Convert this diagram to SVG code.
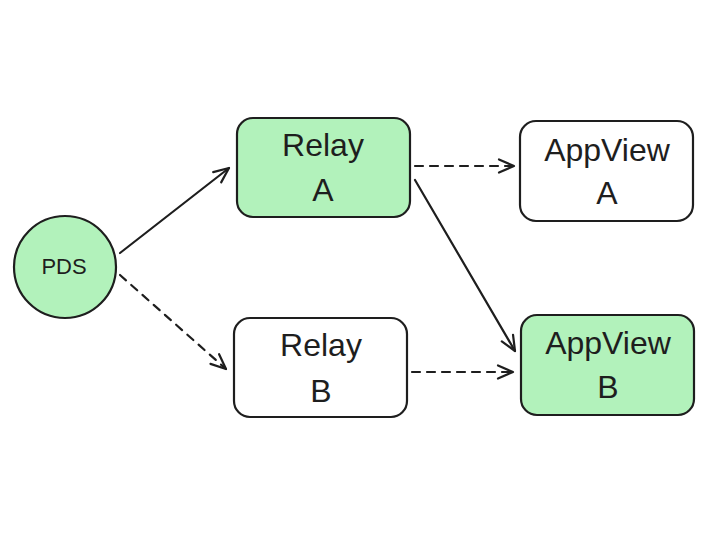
<svg xmlns="http://www.w3.org/2000/svg" width="718" height="539" viewBox="0 0 718 539">
<style>
.node{stroke:#1e1e1e;stroke-width:2.2;}
.green{fill:#b2f2bb;}
.white{fill:#ffffff;}
.lbl{font-family:"Liberation Sans",Arial,sans-serif;fill:#1e1e1e;text-anchor:middle;font-size:32px;}
.edge{fill:none;stroke:#1e1e1e;stroke-width:2.2;stroke-linecap:round;marker-end:url(#arr);}
.dash{stroke-dasharray:8 7;}
</style>
<defs>
<marker id="arr" markerUnits="userSpaceOnUse" markerWidth="30" markerHeight="30" viewBox="-20 -15 30 30" refX="0" refY="0" orient="auto">
<path d="M-15,-6.5 L0,0 L-15,6.5" fill="none" stroke="#1e1e1e" stroke-width="2.2" stroke-linecap="round" stroke-linejoin="round"/>
</marker>
</defs>
<rect width="718" height="539" fill="#ffffff"/>
<g id="connectors">
<path class="edge" d="M120,253 L229,168"/>
<path class="edge dash" d="M120,275 L226,369"/>
<path class="edge dash" d="M415,166 L514,166"/>
<path class="edge" d="M415,180 L515,351"/>
<path class="edge dash" d="M412,372 L513,372"/>
</g>
<g id="pds">
<circle class="node green" cx="65" cy="267" r="51"/>
<text class="lbl" x="64" y="274" style="font-size:22px">PDS</text>
</g>
<g id="relayA">
<rect class="node green" x="237" y="118" width="173" height="99" rx="16"/>
<text class="lbl" x="323" y="156">Relay</text>
<text class="lbl" x="323" y="201">A</text>
</g>
<g id="relayB">
<rect class="node white" x="234" y="318" width="173" height="99" rx="16"/>
<text class="lbl" x="321" y="356">Relay</text>
<text class="lbl" x="321" y="402">B</text>
</g>
<g id="appviewA">
<rect class="node white" x="520" y="121" width="173" height="100" rx="16"/>
<text class="lbl" x="607" y="161">AppView</text>
<text class="lbl" x="607" y="204">A</text>
</g>
<g id="appviewB">
<rect class="node green" x="521" y="315" width="173" height="100" rx="16"/>
<text class="lbl" x="608" y="354">AppView</text>
<text class="lbl" x="608" y="398">B</text>
</g>
</svg>
